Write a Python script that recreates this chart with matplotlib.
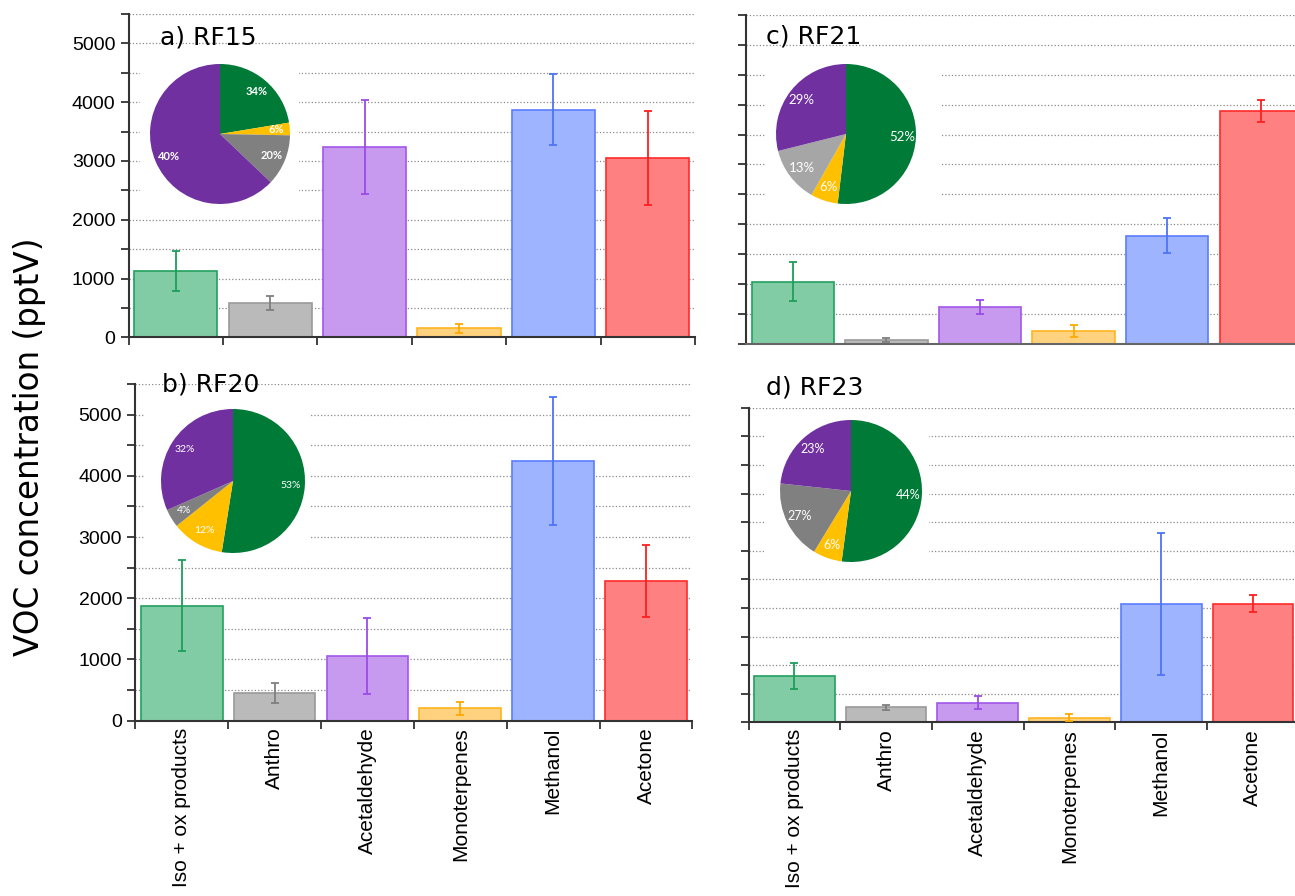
import matplotlib.pyplot as plt
from matplotlib.ticker import MultipleLocator, FixedLocator

W, H = 1295, 896

categories = ['Iso + ox products', 'Anthro', 'Acetaldehyde', 'Monoterpenes', 'Methanol', 'Acetone']

# mean concentrations (pptV) and error bars for each flight
rf15_mean = [1130, 580, 3240, 150, 3870, 3050]
rf15_err = [340, 120, 800, 80, 605, 800]
rf20_mean = [1880, 450, 1050, 200, 4240, 2280]
rf20_err = [745, 165, 620, 100, 1050, 590]
rf21_mean = [1040, 60, 615, 205, 1805, 3895]
rf21_err = [330, 30, 110, 100, 290, 180]
rf23_mean = [810, 262, 345, 80, 2070, 2070]
rf23_err = [235, 40, 110, 60, 1245, 150]

# pie slices (green, yellow, grey, purple) as drawn, and their printed labels
rf15_pie = [22.4, 2.9, 11.8, 62.9]
rf15_pie_lbl = ['34%', '6%', '20%', '40%']
rf20_pie = [52.5, 11.8, 4.1, 31.6]
rf20_pie_lbl = ['53%', '12%', '4%', '32%']
rf21_pie = [51.9, 6.3, 12.9, 28.9]
rf21_pie_lbl = ['52%', '6%', '13%', '29%']
rf23_pie = [52.1, 6.6, 18.0, 23.3]
rf23_pie_lbl = ['44%', '6%', '27%', '23%']

bar_fill = ['#82cca5', '#bababa', '#c79af0', '#ffd27f', '#9fb4ff', '#ff8080']
bar_edge = ['#22a05f', '#9a9a9a', '#a257e8', '#ffb41f', '#5a7dff', '#ff2a2a']
err_col = ['#1e9e5a', '#7f7f7f', '#9a4ce6', '#ffaa00', '#4f74f5', '#ff1f1f']


def px_axes(fig, left, top, right, bottom):
    return fig.add_axes([left / W, 1 - bottom / H, (right - left) / W, (bottom - top) / H])


def bar_panel(fig, box, mean, err, show_ylabels, show_xlabels, xticks=True):
    ax = px_axes(fig, *box)
    x = range(len(categories))
    ax.bar(x, mean, width=0.88, color=bar_fill, edgecolor=bar_edge, linewidth=1.2, zorder=2)
    for i in x:
        ax.errorbar(i, mean[i], yerr=err[i], color=err_col[i], elinewidth=1.3,
                    capsize=3, capthick=1.3, zorder=3)
    ax.set_xlim(-0.5, 5.5)
    ax.set_ylim(0, 5500)
    ax.yaxis.set_major_locator(MultipleLocator(1000))
    ax.yaxis.set_minor_locator(MultipleLocator(500))
    ax.grid(axis='y', which='both', linestyle=':', color='#8a8a8a', linewidth=0.9)
    ax.set_axisbelow(True)
    ax.xaxis.set_major_locator(FixedLocator([i - 0.5 for i in range(7)]))
    ax.xaxis.set_minor_locator(FixedLocator(list(x)))
    ax.tick_params(axis='x', which='major', length=6 if xticks else 0, width=1.3,
                   color='#333333', labelbottom=False)
    ax.tick_params(axis='x', which='minor', length=0, pad=5)
    ax.tick_params(axis='y', which='both', length=6, width=1.3, color='#333333',
                   labelsize=14, labelleft=show_ylabels)
    for t in ax.get_yticklabels():
        t.set_fontfamily('Liberation Sans')
    if show_xlabels:
        ax.set_xticklabels(categories, minor=True, rotation=90, va='top',
                           fontsize=15, fontfamily='Liberation Sans')
    for s in ['top', 'right']:
        ax.spines[s].set_visible(False)
    for s in ['left', 'bottom']:
        ax.spines[s].set_color('#333333')
        ax.spines[s].set_linewidth(1.5)
    if not xticks:
        ax.spines['bottom'].set_color('#666666')
    return ax


def pie_inset(fig, box, center, r, sizes, labels, grey, fs, weight):
    x0, y0, x1, y1 = box
    cx, cy = center
    ax = px_axes(fig, x0, y0, x1, y1)
    colors = ['#007a37', '#ffc000', grey, '#7030a0']
    wedges, texts = ax.pie(sizes, colors=colors, startangle=90, counterclock=False,
                           labels=labels, labeldistance=0.8,
                           wedgeprops=dict(linewidth=0),
                           textprops=dict(color='white', fontsize=fs, fontweight=weight,
                                          fontfamily='Lato'))
    for t in texts:
        t.set_ha('center')
        t.set_va('center')
    ax.set_aspect('auto')
    ax.set_xlim((x0 - cx) / r, (x1 - cx) / r)
    ax.set_ylim((cy - y1) / r, (cy - y0) / r)
    ax.set_frame_on(True)
    for s in ax.spines.values():
        s.set_visible(False)
    ax.patch.set_facecolor('white')


fig = plt.figure(figsize=(W / 100, H / 100), dpi=100)

bar_panel(fig, (128.5, 14, 695, 337.3), rf15_mean, rf15_err, True, False)
bar_panel(fig, (135.4, 384, 692.4, 720.7), rf20_mean, rf20_err, True, True)
bar_panel(fig, (746, 15, 1307.6, 343.7), rf21_mean, rf21_err, False, False, xticks=False)
bar_panel(fig, (748.6, 407.7, 1298.7, 722.3), rf23_mean, rf23_err, False, True)

pie_inset(fig, (140, 58, 299, 210), (220, 134), 70, rf15_pie, rf15_pie_lbl, '#808080', 8, 'bold')
pie_inset(fig, (145, 398, 310, 555), (233, 481), 72, rf20_pie, rf20_pie_lbl, '#808080', 7.5, 'normal')
pie_inset(fig, (765, 50, 940, 210), (846, 134), 70, rf21_pie, rf21_pie_lbl, '#a6a6a6', 9.5, 'normal')
pie_inset(fig, (765, 420, 929, 567), (851, 491), 71, rf23_pie, rf23_pie_lbl, '#808080', 9, 'normal')

for label, (tx, ty) in zip(['a) RF15', 'b) RF20', 'c) RF21', 'd) RF23'],
                           [(160, 45), (161.6, 391.7), (766.4, 43.3), (766.4, 394)]):
    fig.text(tx / W, 1 - ty / H, label, fontsize=18, va='baseline', ha='left')

fig.text(30 / W, 1 - 447 / H, 'VOC concentration (pptV)', rotation=90,
         fontsize=23.5, ha='center', va='center')

fig.savefig('out.png', dpi=100)
